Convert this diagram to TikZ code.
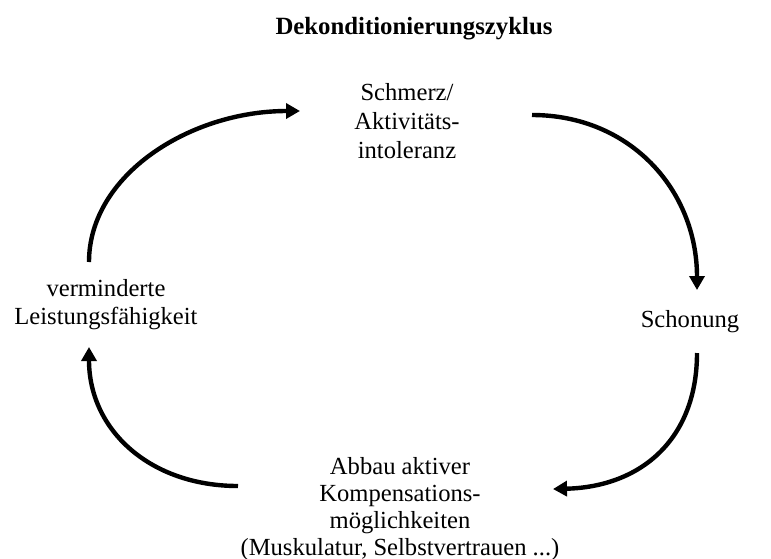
\documentclass[tikz,border=0pt]{standalone}
\usepackage{fontspec}
\setmainfont{Liberation Serif}
\usetikzlibrary{arrows.meta}
\begin{document}
\begin{tikzpicture}[x=0.5pt,y=-0.5pt,
  lbl/.style={align=center,inner sep=0pt},
  cyc/.style={line width=2.2pt,-{Triangle[length=7pt,width=7.5pt]}}]
\useasboundingbox (0,0) rectangle (771,558);
\node[font=\fontsize{12.4pt}{14pt}\selectfont\bfseries, inner sep=0pt] (title) at (414,29) {Dekonditionierungszyklus};
\node[lbl,font=\fontsize{12.3pt}{14.6pt}\selectfont] (top) at (407,121) {Schmerz/\\Aktivitäts-\\intoleranz};
\node[lbl,font=\fontsize{12.3pt}{14pt}\selectfont] (left) at (106,305) {verminderte\\Leistungsfähigkeit};
\node[lbl,font=\fontsize{12.3pt}{14pt}\selectfont] (right) at (690,322) {Schonung};
\node[lbl,font=\fontsize{12.3pt}{13.4pt}\selectfont] (bottom) at (400,509) {Abbau aktiver\\Kompensations-\\möglichkeiten\\(Muskulatur, Selbstvertrauen ...)};
% connector end points
\coordinate (a1s) at (89,262);  \coordinate (a1e) at (300,111);
\coordinate (a2s) at (532,115); \coordinate (a2e) at (697,290);
\coordinate (a3s) at (697,353); \coordinate (a3e) at (553,489);
\coordinate (a4s) at (238,486); \coordinate (a4e) at (89,347);
\draw[cyc] (a1s) .. controls (89,175) and (190,111) .. (a1e);
\draw[cyc] (a2s) .. controls (630,115) and (697,190) .. (a2e);
\draw[cyc] (a3s) .. controls (697,440) and (640,487) .. (a3e);
\draw[cyc] (a4s) .. controls (150,486) and (89,430) .. (a4e);
\end{tikzpicture}
\end{document}
